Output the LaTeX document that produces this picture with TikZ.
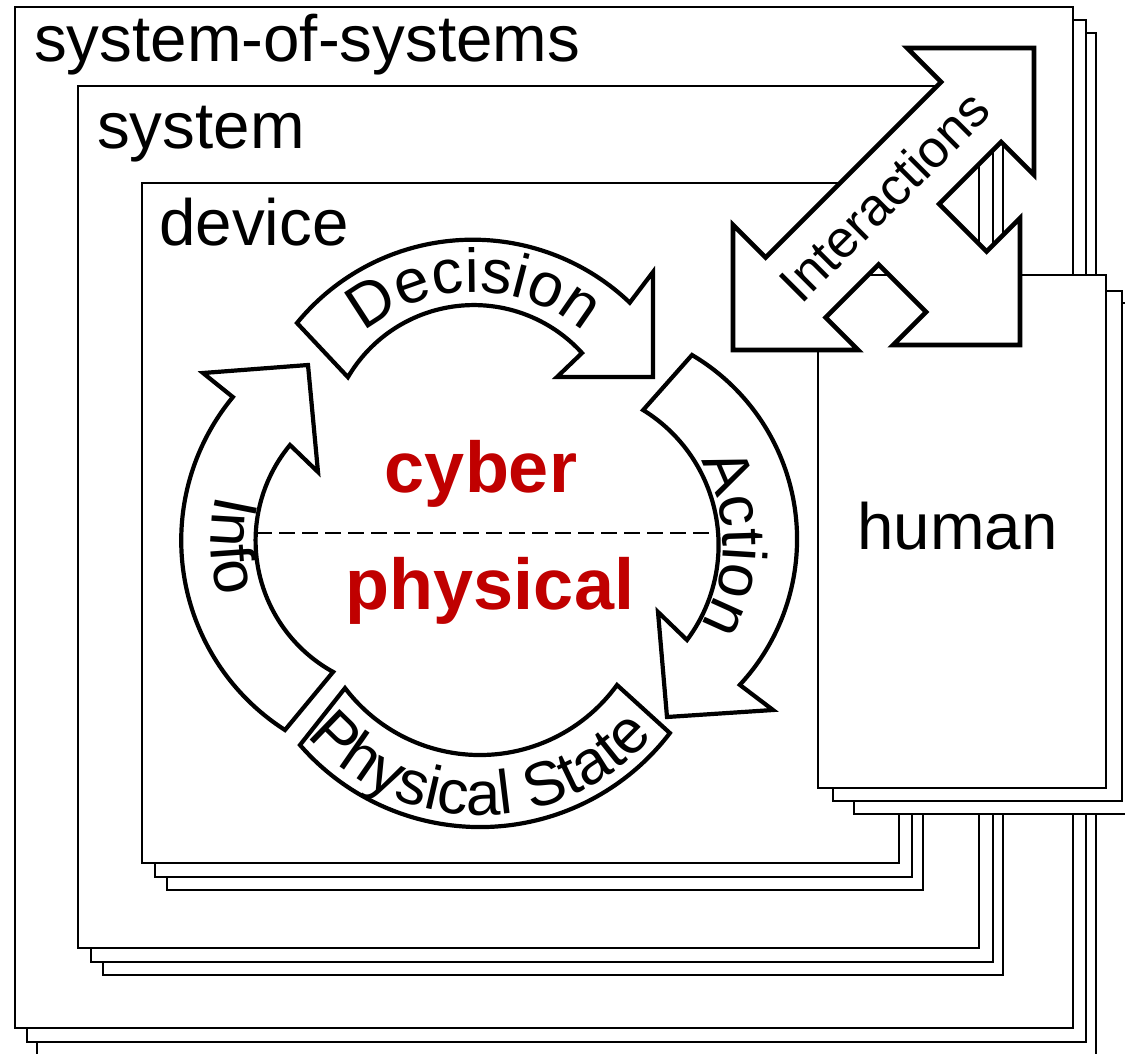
\documentclass[tikz,border=0pt]{standalone}
\usepackage{fontspec}
\setmainfont{Liberation Sans}
\usetikzlibrary{decorations.text}

\definecolor{cyberred}{RGB}{192,0,0}
\newcommand\levelfont{\fontsize{65.5}{65.5}\selectfont}
\newcommand\looplabelfont{\fontsize{62}{62}\selectfont}
\newcommand\corefont{\fontsize{72}{72}\selectfont\bfseries}
\newcommand\linkfont{\fontsize{52.5}{52.5}\selectfont}

\begin{document}
\begin{tikzpicture}[x=1pt, y=-1pt,
  layer/.style={draw=black, fill=white, line width=1.9pt},
  levellabel/.style={anchor=base west, inner sep=0pt, font=\levelfont},
  blockarrow/.style={draw=black, fill=white, line width=4.2pt, line join=miter},
  bigarrow/.style={draw=black, fill=white, line width=4.6pt, line join=miter},
  corelabel/.style={anchor=base, inner sep=0pt, text=cyberred, font=\corefont},
  looptext/.style={decorate, decoration={text along path, text align=center, text={|\looplabelfont|#1}}}
]
\useasboundingbox (0,0) rectangle (1125,1054);
\fill[white] (0,0) rectangle (1125,1054);
\clip (0,0) rectangle (1125,1054);

% system-of-systems stack
\draw[layer] (37,33) rectangle (1096,1060);
\draw[layer] (27,20) rectangle (1086,1042);
\draw[layer] (15,7) rectangle (1073,1028);
% system stack
\draw[layer] (103,112) rectangle (1003,975);
\draw[layer] (91,99) rectangle (993,962);
\draw[layer] (78,86) rectangle (979,948);
% device stack
\draw[layer] (167,209) rectangle (923,890);
\draw[layer] (155,196) rectangle (912,877);
\draw[layer] (142,183) rectangle (899,863);
% human stack
\draw[layer] (854,303) rectangle (1140,814);
\draw[layer] (833,291) rectangle (1122,801);
\draw[layer] (818,275) rectangle (1106,788);

\node[levellabel] (sosLabel) at (34,62) {system-of-systems};
\node[levellabel] (sysLabel) at (97,149) {system};
\node[levellabel] (devLabel) at (159,245) {device};
\node[levellabel] (humLabel) at (857,549) {human};

% interactions: double arrow with a branch towards the human
\draw[bigarrow] (1034,48) -- (1034,175) -- (1001,142) -- (939,204)
  -- (986.5,251.5) -- (1020,218) -- (1020,345) -- (893,345) -- (926,312)
  -- (878.5,264.5) -- (825.5,317.5) -- (858,350) -- (733,350) -- (733,225)
  -- (765.5,257.5) -- (941,82) -- (907,48) -- cycle;
\node[rotate=45, inner sep=0pt, font=\linkfont] (interactions) at (884,196) {Interactions};

% cyber / physical divide
\coordinate (dashL) at (256,533);
\coordinate (dashR) at (718,533);
\draw[line width=1.5pt, dash pattern=on 16pt off 7pt] (dashL) -- (dashR);

% the control loop
\draw[blockarrow] (297,323) arc[start angle=219.3, end angle=313.7, radius=227.2]
  -- (653,272) -- (653,377) -- (557,377) -- (582,353)
  arc[start angle=317.8, end angle=210.4, radius=146] -- cycle;
\draw[blockarrow] (692,355) arc[start angle=-59.4, end angle=42.9, radius=214]
  -- (773,710) -- (667,717) -- (658,612) -- (687,640)
  arc[start angle=36.8, end angle=-58.4, radius=158.5] -- cycle;
\draw[blockarrow] (285,730) arc[start angle=122.6, end angle=219.6, radius=225]
  -- (203,373) -- (308,365) -- (318,472) -- (290,445)
  arc[start angle=219.6, end angle=118.9, radius=150] -- cycle;
\draw[blockarrow] (300,745) arc[start angle=139, end angle=37.3, radius=238.6]
  -- (617,685) arc[start angle=35.9, end angle=142.8, radius=169.3] -- cycle;

% loop labels along the arcs
\path[looptext=Decision] (355.2,341.2) arc[start angle=225, end angle=315, radius=168];
\path[looptext=Action] (641.5,401.8) arc[start angle=-60, end angle=60, radius=163];
\path[looptext=Info] (243.4,433.4) arc[start angle=213.5, end angle=143.5, radius=195];
\path[looptext={Physical State}] (305.3,733.6) arc[start angle=140, end angle=40, radius=228];

\node[corelabel] (cyber) at (481,492) {cyber};
\node[corelabel] (physical) at (490,609) {physical};
\end{tikzpicture}
\end{document}
